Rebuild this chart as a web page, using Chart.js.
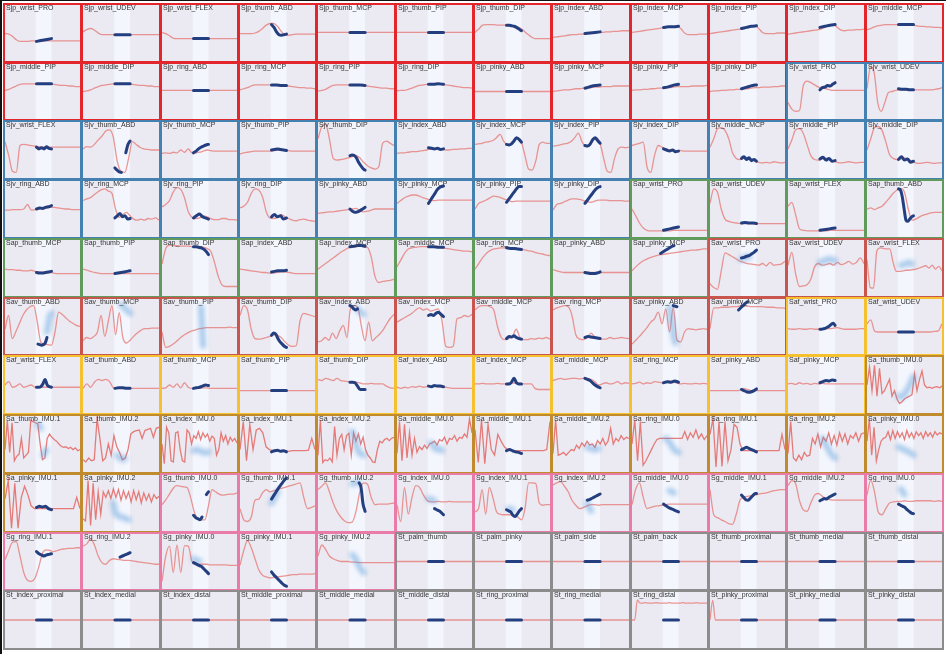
<!DOCTYPE html>
<html>
<head>
<meta charset="utf-8">
<script src="https://cdn.jsdelivr.net/npm/chart.js@4.4.1/dist/chart.umd.min.js"></script>
<style>
  body { margin: 0; background: #fff; width: 946px; height: 654px; overflow: hidden; position: relative; }
  #frame { position: absolute; left: 0; top: 0; width: 946px; height: 654px; border-top: 1px solid #111; border-left: 2px solid #111; box-sizing: border-box; }
  .cell { position: absolute; box-sizing: border-box; border: 2px solid #888; background: #ebebf2; overflow: hidden; }
  .cell canvas { position: absolute; left: 0; top: 0; }
  .lbl { position: absolute; left: 1px; top: -1px; font: 7px "Liberation Sans", Arial, sans-serif; line-height: 7px; color: #333; white-space: nowrap; z-index: 2; }
</style>
</head>
<body>
<div id="frame"></div>
<div id="grid"></div>
<script>
// Panel names, row by row (12 per row)
const names = [
  'Sjp_wrist_PRO','Sjp_wrist_UDEV','Sjp_wrist_FLEX','Sjp_thumb_ABD','Sjp_thumb_MCP','Sjp_thumb_PIP','Sjp_thumb_DIP','Sjp_index_ABD','Sjp_index_MCP','Sjp_index_PIP','Sjp_index_DIP','Sjp_middle_MCP',
  'Sjp_middle_PIP','Sjp_middle_DIP','Sjp_ring_ABD','Sjp_ring_MCP','Sjp_ring_PIP','Sjp_ring_DIP','Sjp_pinky_ABD','Sjp_pinky_MCP','Sjp_pinky_PIP','Sjp_pinky_DIP','Sjv_wrist_PRO','Sjv_wrist_UDEV',
  'Sjv_wrist_FLEX','Sjv_thumb_ABD','Sjv_thumb_MCP','Sjv_thumb_PIP','Sjv_thumb_DIP','Sjv_index_ABD','Sjv_index_MCP','Sjv_index_PIP','Sjv_index_DIP','Sjv_middle_MCP','Sjv_middle_PIP','Sjv_middle_DIP',
  'Sjv_ring_ABD','Sjv_ring_MCP','Sjv_ring_PIP','Sjv_ring_DIP','Sjv_pinky_ABD','Sjv_pinky_MCP','Sjv_pinky_PIP','Sjv_pinky_DIP','Sap_wrist_PRO','Sap_wrist_UDEV','Sap_wrist_FLEX','Sap_thumb_ABD',
  'Sap_thumb_MCP','Sap_thumb_PIP','Sap_thumb_DIP','Sap_index_ABD','Sap_index_MCP','Sap_middle_MCP','Sap_ring_MCP','Sap_pinky_ABD','Sap_pinky_MCP','Sav_wrist_PRO','Sav_wrist_UDEV','Sav_wrist_FLEX',
  'Sav_thumb_ABD','Sav_thumb_MCP','Sav_thumb_PIP','Sav_thumb_DIP','Sav_index_ABD','Sav_index_MCP','Sav_middle_MCP','Sav_ring_MCP','Sav_pinky_ABD','Sav_pinky_MCP','Saf_wrist_PRO','Saf_wrist_UDEV',
  'Saf_wrist_FLEX','Saf_thumb_ABD','Saf_thumb_MCP','Saf_thumb_PIP','Saf_thumb_DIP','Saf_index_ABD','Saf_index_MCP','Saf_middle_MCP','Saf_ring_MCP','Saf_pinky_ABD','Saf_pinky_MCP','Sa_thumb_IMU.0',
  'Sa_thumb_IMU.1','Sa_thumb_IMU.2','Sa_index_IMU.0','Sa_index_IMU.1','Sa_index_IMU.2','Sa_middle_IMU.0','Sa_middle_IMU.1','Sa_middle_IMU.2','Sa_ring_IMU.0','Sa_ring_IMU.1','Sa_ring_IMU.2','Sa_pinky_IMU.0',
  'Sa_pinky_IMU.1','Sa_pinky_IMU.2','Sg_thumb_IMU.0','Sg_thumb_IMU.1','Sg_thumb_IMU.2','Sg_index_IMU.0','Sg_index_IMU.1','Sg_index_IMU.2','Sg_middle_IMU.0','Sg_middle_IMU.1','Sg_middle_IMU.2','Sg_ring_IMU.0',
  'Sg_ring_IMU.1','Sg_ring_IMU.2','Sg_pinky_IMU.0','Sg_pinky_IMU.1','Sg_pinky_IMU.2','St_palm_thumb','St_palm_pinky','St_palm_side','St_palm_back','St_thumb_proximal','St_thumb_medial','St_thumb_distal',
  'St_index_proximal','St_index_medial','St_index_distal','St_middle_proximal','St_middle_medial','St_middle_distal','St_ring_proximal','St_ring_medial','St_ring_distal','St_pinky_proximal','St_pinky_medial','St_pinky_distal'
];

// Frame colour per sensor group
const groupColors = { Sjp: '#e2262b', Sjv: '#4581b0', Sap: '#609a5c', Sav: '#c9554f', Saf: '#f6c12e', Sa: '#c08b2c', Sg: '#e87ba8', St: '#8c8c8c' };

// Red trace per panel (0 = bottom, 100 = top), points spread evenly over the time axis
const redLines = [
  [49,48,44,38,35,35,35,36,36,36,36,36,36,36,36,36,36,36,36,36,36],
  [52,56,58,55,50,47,47,47,47,47,47,47,47,47,47,47,47,47,47,47,47],
  [51,49,45,41,40,40,40,40,40,40,40,40,40,40,40,40,40,40,40,40,40],
  [49,49,49,49,50,53,58,64,67,67,62,53,46,46,47,48,48,48,48,48,48],
  [51,51],
  [51,51],
  [51,57,64,65,65,65,64,64,64,63,63,62,59,54,48,43,40,40,40,40,40],
  [42,43,44,45,46,47,47,48,48,49,50,50,51,51,52,52,53,53,54,54,54],
  [51,52,53,54,55,56,57,58,59,60,61,61,62,58,50,47,47,47,48,48,48],
  [49,50,51,52,53,54,55,56,57,59,61,62,63,58,51,49,49,49,50,50,50],
  [48,49,50,51,52,53,54,55,56,58,61,63,65,60,55,54,55,55,56,56,57],
  [56,58,61,63,64,65,65,65,65,65,65,65,64,63,62,62,61,61,60,60,59],
  [52,54,57,60,63,64,64,64,64,64,64,64,63,63,62,61,61,60,60,59,59],
  [50,51,53,56,59,61,62,63,64,64,64,64,64,63,62,61,61,60,60,59,59],
  [52,52],
  [53,55,57,60,62,62,62,62,62,62,62,61,61,60,59,58,57,57,56,56,55],
  [51,52,54,58,61,62,62,62,62,62,62,62,61,60,59,58,57,56,56,55,55],
  [51,52,52,54,56,59,61,62,63,63,63,63,63,62,61,60,59,58,57,57,56],
  [50,50],
  [50,51,52,53,53,54,55,55,56,57,57,58,58,59,59,59,60,60,60,60,60],
  [52,53,53,54,54,55,55,56,56,57,57,58,59,59,59,59,60,60,60,60,61],
  [50,51,51,52,52,53,53,54,54,55,55,56,57,57,58,58,58,59,59,60,60],
  [30,18,14,15,60,69,66,62,58,56,55,53,52,52,52,52,52,52,52,52,52],
  [55,95,85,30,14,30,48,50,52,53,53,53,53,53,53,53,53,53,53,54,55,57],
  [65,40,12,10,58,60,59,58,57,56,55,55,55,55,55,55,55,55,55,55,55],
  [52,56,55,60,68,75,84,86,72,30,12,10,35,65,60,55,52,51,50,50,50],
  [44,45,44,46,45,50,46,52,45,45,46,48,50,49,48,48,48,48,48,48,48],
  [43,45,46,47,48,48,48,48,48,49,50,51,50,49,48,48,48,48,48,48,48],
  [70,92,96,70,35,32,33,34,36,38,40,36,28,22,18,16,20,62,66,62,58],
  [44,45,45,46,47,47,48,49,50,52,53,52,51,50,50,51,51,52,52,53,53],
  [60,61,62,64,65,67,72,78,66,60,60,66,72,64,40,16,14,30,60,64,62,62],
  [57,58,59,61,62,65,72,80,65,57,58,66,72,62,35,12,10,35,52,55,54,55],
  [58,60,62,64,20,10,40,58,55,52,50,50,49,49,48,48,48,48,48,48,48],
  [55,70,88,90,85,70,45,35,33,35,36,34,30,28,27,28,27,29,28,27,28],
  [52,68,86,88,80,60,40,33,32,34,35,33,30,28,27,28,29,28,27,28,28],
  [50,70,90,92,85,65,42,35,33,34,36,33,30,27,26,27,28,27,26,27,27],
  [48,48,49,49,49,50,58,48,49,50,51,52,53,53,52,51,50,50,49,49,49],
  [65,68,70,75,80,84,86,82,78,50,35,40,44,38,32,30,32,30,33,32,34,30],
  [54,58,65,80,88,85,70,45,35,33,34,38,36,33,31,31,33,33,31,31,30],
  [52,55,62,78,86,84,72,45,34,33,35,40,36,33,30,29,31,32,30,29,28],
  [42,43,44,45,45,46,47,48,49,50,51,47,45,46,48,50,50,50,50,50,50],
  [60,65,70,73,75,75,73,70,68,66,65,66,66,66,66,66,66,66,66,66,66],
  [50,60,63,66,70,73,72,70,67,65,63,64,64,64,64,64,64,64,64,64,64],
  [48,58,60,63,66,68,68,67,65,63,62,64,66,66,66,65,65,65,65,64,64],
  [50,38,25,16,12,11,11,11,11,11,11,12,12,12,12,12,12,12,12,12,12],
  [60,86,80,50,32,28,26,25,24,24,24,24,24,24,24,24,24,24,24,24,24],
  [55,62,40,15,12,11,11,11,11,11,11,12,12,12,12,12,12,12,12,12,12],
  [50,52,49,52,55,62,70,78,84,87,80,50,30,32,36,39,41,43,44,44,44],
  [48,47,47,46,46,45,45,46,44,43,42,42,42,41,40,40,40,40,40,40,40],
  [48,46,44,42,41,40,40,40,40,40,40,40,40,40,40,40,40,40,40,40,40],
  [57,85,91,90,90,89,89,89,88,88,88,87,85,80,60,35,20,17,17,17,17],
  [48,47,46,45,44,43,42,42,41,41,42,43,43,42,41,40,40,40,40,40,40],
  [48,53,58,63,68,73,78,82,86,88,88,89,88,87,70,35,24,26,27,28,30],
  [52,64,76,84,86,87,88,88,88,88,88,87,86,85,84,83,82,81,80,80,79],
  [48,58,68,76,81,84,85,86,86,86,86,85,84,83,81,80,78,76,75,73,72],
  [47,45,43,42,42,42,42,42,42,42,42,42,42,42,42,42,42,42,42,42,42],
  [45,52,58,63,66,69,71,73,74,75,76,77,78,79,80,81,82,82,83,84,84],
  [22,15,12,45,77,74,70,66,62,60,58,57,56,55,58,54,60,55,56,57,62],
  [55,78,40,17,18,20,30,52,58,55,56,58,55,60,56,58,62,57,60,68,58],
  [65,15,14,80,86,85,84,84,60,44,44,45,46,46,47,48,50,52,54,50,55,48,53,45],
  [45,70,28,40,55,70,80,86,88,60,22,18,17,16,40,76,72,66,60,56,52,50],
  [24,30,28,32,40,70,32,60,88,35,75,30,20,25,32,38,43,46,46,47,47,47],
  [40,12,14,18,24,30,35,39,42,44,46,47,48,48,48,48,48,48,49,48,48],
  [70,88,80,45,28,27,28,30,32,35,34,30,22,16,14,15,60,74,72,70,68],
  [22,24,30,25,38,28,42,52,30,84,88,85,50,24,58,24,30,36,44,55,65,72],
  [58,62,66,70,74,80,84,80,82,78,80,82,60,14,12,14,64,66,70,68,72],
  [80,86,88,88,86,80,50,30,26,28,32,45,30,26,26,28,27,29,28,30,27],
  [80,84,86,88,86,70,35,27,26,30,38,31,28,27,27,30,28,29,30,29,28],
  [18,25,32,40,48,58,64,76,55,82,40,85,25,22,40,46,45,44,45,46,45],
  [46,84,84,85,85,85,86,86,87,87,87,86,86,86,86,85,85,85,84,84,83],
  [46,45,45,46,45,45,46,45,45,45,46,46,47,48,46,45,45,45,45,46,46],
  [55,62,42,40,40,40,40,40,40,40,40,40,40,40,40,40,40,40,41,42,55],
  [50,56,46,48,52,46,48,50,46,46,46,46,46,46,46,46,46,46,46,46,46],
  [44,52,46,55,60,58,60,56,45,44,44,44,44,44,44,44,44,44,44,44,44],
  [44,45,50,46,52,45,54,46,44,44,44,45,45,44,44,44,44,44,44,44,44],
  [40,40],
  [60,58,62,60,58,62,58,57,56,55,55,54,52,52,53,52,52,52,48,45,44],
  [46,44,46,45,47,46,48,46,47,48,48,47,46,46,45,44,44,44,44,44,44],
  [52,52,53,52,52,52,53,52,52,53,54,53,53,52,52,52,44,42,42,42,42],
  [58,60,62,60,61,62,62,61,62,62,60,56,50,52,54,52,53,56,52,54,53],
  [52,53,55,52,54,53,56,55,54,55,57,55,54,52,53,52,52,53,52,53,52],
  [40,40,40,40,40,40,40,40,41,44,42,40,40,40,40,40,40,40,40,40,40],
  [52,53,51,54,52,53,51,53,52,53,52,52,52,52,52,52,52,52,52,52,52],
  [50,82,40,85,30,80,35,40,50,60,30,40,25,17,20,25,28,30,33,70,40,60,75,50,45,46,44,46,47,45,48],
  [40,92,35,88,20,28,32,60,25,30,35,92,90,88,86,50,22,25,60,68,62,58,55,50,46,44,45,42,44,40,43,38,40],
  [22,18,25,20,22,95,60,20,25,50,30,65,45,35,22,25,40,68,72,74,75,60,74,76,78,62,78,80],
  [50,15,80,70,20,18,70,72,40,20,18,75,70,50,65,60,72,58,70,62,68,55,64,60,30,40,70,55,65,50,62,55,60,52],
  [40,90,20,85,40,75,78,70,45,40,38,38,38,38,38,37,38,38,38,38,38,39,60,40],
  [30,93,17,22,20,25,18,81,30,60,67,40,65,69,30,70,55,68,50,62,40,30,25,18,17,40,55,52,58,60,56,60,62],
  [33,90,20,85,25,70,30,60,35,45,40,48,42,50,52,55,48,58,55,62,50,60,58,65,55,62,60,68,62,95,70],
  [76,17,93,15,85,40,30,67,55,45,40,38,38,38,38,38,38,38,38,38,38,38,40,90],
  [33,93,30,32,35,30,35,40,38,48,42,52,46,55,48,50,44,56,50,60,48,55,78,50,60,55,65,58,62,60],
  [50,93,20,90,12,20,30,40,50,58,60,60,60,60,60,60,60,60,60,72,58,70,62,75,60,68,58,65],
  [67,95,9,90,10,90,20,40,85,80,50,38,38,38,38,38,38,38,38,38,38,38,38,38,67,40],
  [33,90,25,20,30,22,35,28,30,60,50,68,45,62,55,70,50,65,48,70,55,68,50,65,60,70,55,68,70],
  [55,95,30,80,20,40,55,60,62,72,58,74,60,72,62,70,58,74,62,70,60,72,65,70,60,72,64,70,62,72,66,70,68],
  [57,90,5,85,5,60,80,65,45,40,40,40,40,40,40,40,40,40,40,40,40,40,60,40],
  [22,18,90,10,85,20,70,30,70,60,72,58,75,60,74,55,72,58,70,52,72,56,70,50,68,55,66,52,65,58,62],
  [47,55,65,75,81,80,79,78,60,35,22,20,20,45,74,70,66,64,65,66,66,68],
  [40,20,17,25,55,57,68,74,70,72,74,76,78,80,82,84,86,60,40,42,45],
  [74,80,86,70,50,35,25,18,15,16,35,70,86,84,60,47,48,48,48,49,50],
  [47,17,78,30,60,81,78,65,55,52,52,53,52,52,53,52,52,52,52,52,52],
  [34,40,74,30,78,60,35,30,29,29,29,28,25,20,40,86,86,85,50,46,47,47],
  [82,86,88,80,70,55,46,40,42,45,47,47,46,47,47,47,47,47,47,47,47],
  [47,75,86,60,40,42,44,45,46,47,48,48,48,48,48,48,48,48,48,48,48],
  [74,29,24,20,17,13,12,30,55,60,62,63,64,66,67,68,70,72,73,74,74],
  [81,90,85,55,38,35,50,64,67,62,58,56,55,55,55,55,55,55,55,55,55],
  [64,91,70,34,29,40,50,52,53,53,54,53,53,54,54,54,54,54,53,54,53],
  [53,70,85,86,60,30,16,14,20,40,65,71,70,68,70,72,73,74,74,75,75],
  [78,82,91,80,60,48,45,52,55,54,53,52,52,51,50,49,48,47,46,45,45],
  [14,60,78,30,80,30,79,78,50,45,45,45,45,44,44,44,44,44,43,43,43],
  [43,70,88,75,55,35,25,22,20,21,22,23,24,25,26,26,27,27,27,27,28],
  [60,80,72,60,55,52,50,50,50,49,49,48,48,48,48,48,48,48,48,48,48],
  [50,50],[50,50],[50,50],[50,50],[50,50],[50,50],[50,50],
  [50,50],[50,50],[50,50],[50,50],[50,50],[50,50],[50,50],[50,50],
  [50,50,86,80,80,81,80,80,80,81,80,80,80,80,81,80,80,80,80,81,80,80,80,80,81,80,80,80,80],
  [50,85,50,50,50,50,50,50,50,50,50,50,50,50,50,50,50,50,50,50,50,50,50,50,50,50,50,50,50],
  [50,50],[50,50]
];

// Dark blue segment per panel (null entry = no dark segment, null value = gap)
const blueLines = [
  [35,36,37,38,39,40],[47,47],[40,40],[65,60,52,47,46,47,48],[51,51],[51,51],[64,64,63,62,60,57,54],[49,50,51,52],[60,61,61,62],[58,60,62,63],[60,62,64,65],[65,65],
  [64,64],[64,64],[52,52],[62,62,61,61],[62,62,62,61],[63,63,64,63],[50,50],[56,58,60,61,62],[57,58,60,62,63],[55,57,59,61,62],[53,57,58,61,60,63,66],[55,54,54,53,53],
  [55,52,54,52,56,53,52],[18,14,11,10,null,45,60,66],[45,48,52,55,57,59,60],[50,51,52,51,50,49],[40,41,40,36,28,22,17,14],[54,53,52,53,51,52],[60,59,61,66,72,69,64],[58,57,60,68,72,67,62],[52,50,48,50,47,48],[35,38,33,36,31,33,30],[34,37,32,35,30,31],[33,38,32,34,28,30],
  [50,52,51,53,54,56],[34,38,42,36,38,32,33],[34,38,41,36,34,32],[36,40,36,38,32,34],[50,46,44,45,47,50,53],[60,66,72,78,84,88,90,91],[62,68,74,80,86,90,90],[60,66,72,78,84,88,90],[12,13,14,15,16,17,18],[25,26,25,25,24],[12,13,14,15,16],[86,84,72,50,30,28,32,36,38],
  [42,41,41,42,43,44],[40,41,42,43,44,45],[88,88,87,86,84,80,74],[43,44,45,45,45,46],[88,89,90,90,89],[88,88,87,87],[86,85,85,84,83],[42,41,40,40,41,43],[76,79,82,85,88,90],[68,69,71,72,75,78,82],null,null,
  [18,17,16,17,20,30],null,null,[34,38,36,28,22,18,14,12],[88,86,82,80,82],[70,72,70,74,76,72,68],[28,32,31,33,30,28,27],[30,32,31,30,29,28],[88,86],[80,84,88,92,95],[45,45,46,47,49,51,54,56,52],[40,40],
  [46,46,47,52,60,50,47,46],[44,45,45,44,44],[44,45,46,48,50,49],[40,40],[55,55,54,48,42,42,42],[48,47,49,48,48,47],[52,52,55,62,54,52,52],[62,60,58,54,50,47,45],[54,56,55,57,55],[42,40,38,37,38,40,43],[54,56,58,57,59,58],null,
  null,null,null,[36,38,39,37,38,36],null,null,[38,40,38,36,35,33],null,null,[40,42,44,42,40,38,36],null,null,
  [42,44,43,44,40,38],null,[28,24,22,20,25,null,65,70],[57,64,71,78,84,90,95],[86,84,80,70,55,45,40,35],[40,38,36,33,29],[38,36,34,28,26,30,36,40],[55,56,58,60,62,64,66],[48,45,42,40,38,36,34],[64,60,56,55,58,62,66,67],[54,56,58,57,60,62,64,66],[48,46,44,42,38,35,32,31],
  [68,64,62,60,62,63,64],[null,null,58,60,62,64,66],[48,46,44,42,40,36,32,28],[31,26,22,18,14,10,7,5],null,[50,50],[50,50],[50,50],[50,50],[50,50],[50,50],[50,50],
  [50,50],[50,50],[50,50],[50,50],[50,50],[50,50],[50,50],[50,50],[50,50],[50,50],[50,50],[50,50]
];

// Time span of the dark segments that differ from the shaded window
const blueSpans = {
  'Sap_pinky_MCP': [0.38, 0.56], 'Sav_pinky_MCP': [0.38, 0.5], 'Sav_thumb_ABD': [0.44, 0.56],
  'Sav_index_ABD': [0.42, 0.52], 'Sav_pinky_ABD': [0.55, 0.6], 'Sg_thumb_IMU.2': [0.54, 0.62],
  'Sg_index_IMU.0': [0.5, 0.62], 'Sg_index_IMU.2': [0.45, 0.62]
};

// Faint light-blue clouds: values and their time span
const cloudLines = {
  'Sav_wrist_PRO': [66,68,70,70], 'Sav_wrist_UDEV': [60,62,64,66,65,63], 'Sav_wrist_FLEX': [55,56,58,60,57],
  'Sav_thumb_ABD': [40,55,70,74], 'Sav_thumb_MCP': [90,86,82,78,74], 'Sav_thumb_PIP': [85,70,55,40,25,15],
  'Sav_index_ABD': [84,80,76,72], 'Sav_pinky_ABD': [85,70,55,40,28,20], 'Sa_thumb_IMU.0': [30,28,32,38,45,55,65],
  'Sa_thumb_IMU.1': [86,82,78,null,30,35,40], 'Sa_thumb_IMU.2': [30,26,24,22,25], 'Sa_index_IMU.0': [38,40,38,36,34,36],
  'Sa_index_IMU.2': [72,60,45,35,32,30], 'Sa_middle_IMU.0': [52,46,40,42,38], 'Sa_middle_IMU.2': [44,42,40,42],
  'Sa_ring_IMU.0': [60,55,45,38,35], 'Sa_ring_IMU.2': [60,50,40,30,25], 'Sa_pinky_IMU.0': [45,42,40,37,34,30],
  'Sa_pinky_IMU.2': [50,30,27,25,24,22,20], 'Sg_thumb_IMU.1': [50,60,70], 'Sg_thumb_IMU.2': [84,86,86],
  'Sg_index_IMU.0': [58,56,54], 'Sg_index_IMU.1': [40,38], 'Sg_index_IMU.2': [50,42,36], 'Sg_middle_IMU.0': [72,68],
  'Sg_ring_IMU.0': [75,70,65], 'Sg_pinky_IMU.0': [55,50], 'Sg_pinky_IMU.2': [62,58,50,42,35,30]
};
const cloudSpans = {
  'Sav_wrist_PRO': [0.42,0.52], 'Sav_wrist_UDEV': [0.42,0.62], 'Sav_wrist_FLEX': [0.45,0.6], 'Sav_thumb_ABD': [0.56,0.62],
  'Sav_thumb_MCP': [0.5,0.62], 'Sav_thumb_PIP': [0.52,0.55], 'Sav_index_ABD': [0.5,0.6], 'Sav_pinky_ABD': [0.5,0.58],
  'Sa_thumb_IMU.0': [0.42,0.62], 'Sa_thumb_IMU.1': [0.44,0.55], 'Sa_thumb_IMU.2': [0.45,0.55], 'Sa_index_IMU.0': [0.42,0.62],
  'Sa_index_IMU.2': [0.45,0.6], 'Sa_middle_IMU.0': [0.45,0.6], 'Sa_middle_IMU.2': [0.45,0.6], 'Sa_ring_IMU.0': [0.45,0.62],
  'Sa_ring_IMU.2': [0.45,0.62], 'Sa_pinky_IMU.0': [0.42,0.62], 'Sa_pinky_IMU.2': [0.4,0.6], 'Sg_thumb_IMU.1': [0.42,0.5],
  'Sg_thumb_IMU.2': [0.45,0.54], 'Sg_index_IMU.0': [0.42,0.5], 'Sg_index_IMU.1': [0.45,0.5], 'Sg_index_IMU.2': [0.45,0.5],
  'Sg_middle_IMU.0': [0.5,0.56], 'Sg_ring_IMU.0': [0.45,0.5], 'Sg_pinky_IMU.0': [0.42,0.5], 'Sg_pinky_IMU.2': [0.45,0.6]
};

const bandRange = [0.41, 0.62];   // lighter shaded window
const defaultSpan = [0.42, 0.62];

// spread values evenly over [from, to]
function toPoints(values, from, to) {
  const n = values.length;
  return values.map((v, i) => ({ x: from + (to - from) * i / (n - 1), y: v }));
}

// background + shaded window, placed through the x scale
const bandPlugin = {
  id: 'band',
  beforeDraw(chart) {
    const { ctx, chartArea: a, scales: { x } } = chart;
    ctx.save();
    ctx.fillStyle = '#ebeaf2';
    ctx.fillRect(a.left, a.top, a.width, a.height);
    const x0 = x.getPixelForValue(bandRange[0]);
    const x1 = x.getPixelForValue(bandRange[1]);
    ctx.fillStyle = '#f4f6fd';
    ctx.fillRect(x0, a.top, x1 - x0, a.height);
    ctx.restore();
  },
  // soften the cloud datasets
  beforeDatasetDraw(chart, args) {
    if (chart.data.datasets[args.index].cloud) {
      chart.ctx.save();
      chart.ctx.filter = 'blur(2px)';
    }
  },
  afterDatasetDraw(chart, args) {
    if (chart.data.datasets[args.index].cloud) chart.ctx.restore();
  }
};

const grid = document.getElementById('grid');
const X0 = 3, Y0 = 3, W = 940, H = 646, COLS = 12, ROWS = 11;

names.forEach((name, i) => {
  const c = i % COLS, r = Math.floor(i / COLS);
  const left = Math.round(X0 + c * W / COLS), right = Math.round(X0 + (c + 1) * W / COLS);
  const top = Math.round(Y0 + r * H / ROWS), bottom = Math.round(Y0 + (r + 1) * H / ROWS);
  const group = name.split('_')[0];
  const w = right - left + 1, h = bottom - top + 1;   // neighbours overlap by one pixel

  const cell = document.createElement('div');
  cell.className = 'cell';
  cell.style.left = left + 'px';
  cell.style.top = top + 'px';
  cell.style.width = w + 'px';
  cell.style.height = h + 'px';
  cell.style.borderColor = groupColors[group];

  const lbl = document.createElement('div');
  lbl.className = 'lbl';
  lbl.textContent = name;
  cell.appendChild(lbl);

  const canvas = document.createElement('canvas');
  canvas.width = w - 4;
  canvas.height = h - 4;
  cell.appendChild(canvas);
  grid.appendChild(cell);

  const noisy = group === 'Sa';
  const datasets = [];
  if (blueLines[i]) {
    const span = blueSpans[name] || defaultSpan;
    datasets.push({
      data: toPoints(blueLines[i], span[0], span[1]),
      borderColor: '#243f80', borderWidth: 3, pointRadius: 0,
      borderCapStyle: 'round', cubicInterpolationMode: 'monotone'
    });
  }
  if (cloudLines[name]) {
    const span = cloudSpans[name];
    datasets.push({
      data: toPoints(cloudLines[name], span[0], span[1]),
      cloud: true,
      borderColor: 'rgba(80,150,215,0.45)', borderWidth: 6, pointRadius: 0,
      borderCapStyle: 'round', borderJoinStyle: 'round', cubicInterpolationMode: 'monotone'
    });
  }
  datasets.push({
    data: toPoints(redLines[i], 0, 1),
    borderColor: noisy ? 'rgba(226,95,90,0.8)' : 'rgba(230,110,105,0.7)',
    borderWidth: 1.3, pointRadius: 0,
    cubicInterpolationMode: noisy ? 'default' : 'monotone', tension: 0
  });

  new Chart(canvas, {
    type: 'line',
    data: { datasets },
    options: {
      responsive: false,
      animation: false,
      events: [],
      layout: { padding: 0 },
      plugins: { legend: { display: false }, tooltip: { enabled: false } },
      scales: {
        x: { type: 'linear', min: 0, max: 1, display: false },
        y: { type: 'linear', min: 0, max: 100, display: false }
      }
    },
    plugins: [bandPlugin]
  });
});
</script>
</body>
</html>
